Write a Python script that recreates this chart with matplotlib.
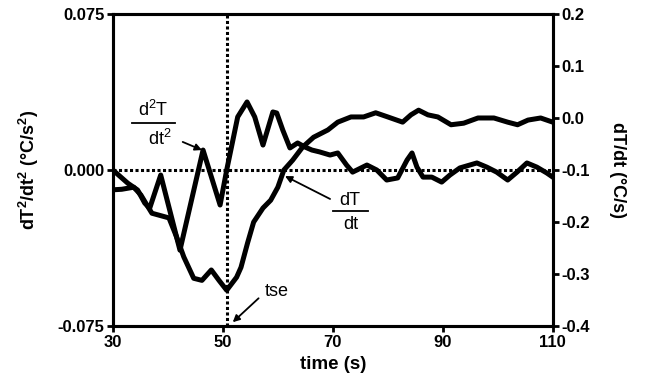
import matplotlib
matplotlib.use("Agg")
import matplotlib.pyplot as plt

plt.rcParams["font.family"] = ["Liberation Sans", "DejaVu Sans"]

# d2T/dt2 (left axis, degC/s^2)
t_d2 = [30.0, 32.7, 34.5, 35.8, 36.7, 38.7, 42.2, 46.4, 49.5, 50.7, 52.7, 54.4,
        55.8, 57.3, 59.1, 59.8, 60.9, 62.2, 63.6, 64.9, 66.2, 67.6, 69.5, 70.9,
        72.5, 73.6, 76.2, 78.0, 79.8, 81.8, 83.5, 84.4, 85.3, 86.4, 88.0, 89.8,
        91.3, 93.1, 96.2, 98.0, 99.8, 101.8, 103.5, 105.3, 107.1, 108.9, 110.0]
d2T = [0.0, -0.0063, -0.0096, -0.0159, -0.0183, -0.0024, -0.0385, 0.0096,
       -0.0168, 0.0, 0.0255, 0.0327, 0.0255, 0.0120, 0.0279, 0.0274, 0.0192,
       0.0106, 0.0130, 0.0111, 0.0096, 0.0087, 0.0072, 0.0082, 0.0024, -0.0010,
       0.0024, 0.0, -0.0048, -0.0038, 0.0048, 0.0082, 0.0014, -0.0034, -0.0034,
       -0.0058, -0.0024, 0.0010, 0.0034, 0.0014, -0.0010, -0.0048, -0.0010,
       0.0034, 0.0014, -0.0014, -0.0034]

# dT/dt (right axis, degC/s)
t_d1 = [30.0, 31.6, 33.8, 35.1, 36.4, 37.1, 40.2, 41.6, 42.9, 44.7, 46.2, 47.9,
        49.3, 50.7, 52.5, 53.3, 54.5, 55.6, 57.3, 58.7, 60.0, 61.1, 62.7, 64.5,
        66.5, 69.1, 70.9, 73.3, 75.6, 77.8, 80.0, 82.7, 84.2, 85.6, 87.3, 89.1,
        91.5, 93.8, 96.4, 99.3, 101.8, 103.6, 105.5, 107.8, 110.0]
dT = [-0.138, -0.137, -0.133, -0.148, -0.171, -0.183, -0.192, -0.229, -0.267,
      -0.308, -0.312, -0.292, -0.312, -0.331, -0.306, -0.287, -0.240, -0.200,
      -0.173, -0.158, -0.133, -0.100, -0.081, -0.056, -0.037, -0.023, -0.008,
      0.002, 0.002, 0.010, 0.002, -0.008, 0.006, 0.015, 0.006, 0.002, -0.013,
      -0.010, 0.000, 0.000, -0.008, -0.013, -0.004, 0.000, -0.008]

tse = 50.7
x_ticks = [30, 50, 70, 90, 110]
left_ticks = [-0.075, 0.0, 0.075]
right_ticks = [-0.4, -0.3, -0.2, -0.1, 0.0, 0.1, 0.2]

fig = plt.figure(figsize=(6.45, 3.86), dpi=100)
ax = fig.add_axes([0.175, 0.155, 0.682, 0.809])
ax2 = ax.twinx()

dots = (0, (1.0, 0.8))
ax.axhline(0, color="black", lw=2.2, linestyle=dots, zorder=1)
ax.axvline(tse, color="black", lw=2.2, linestyle=dots, zorder=1)

ax.plot(t_d2, d2T, color="black", lw=3.6, solid_joinstyle="round", zorder=3)
ax2.plot(t_d1, dT, color="black", lw=3.6, solid_joinstyle="round", zorder=3)

ax.set_xlim(30, 110)
ax.set_ylim(-0.075, 0.075)
ax2.set_ylim(-0.4, 0.2)
ax.set_xticks(x_ticks)
ax.set_yticks(left_ticks)
ax.set_yticklabels(["-0.075", "0.000", "0.075"])
ax2.set_yticks(right_ticks)
ax2.set_yticklabels([f"{v:.1f}" for v in right_ticks])

for a in (ax, ax2):
    for s in a.spines.values():
        s.set_linewidth(2.2)
    a.tick_params(direction="out", length=4, width=2, labelsize=12, pad=2)
    for lab in a.get_xticklabels() + a.get_yticklabels():
        lab.set_fontweight("bold")

ax.set_xlabel("time (s)", fontsize=13.5, fontweight="bold", labelpad=5)
ax.set_ylabel("dT$\\mathregular{^2}$/dt$\\mathregular{^2}$ (°C/s$\\mathregular{^2}$)",
              fontsize=13, fontweight="bold", labelpad=12)
ax2.set_ylabel("dT/dt (°C/s)", fontsize=13, fontweight="bold",
               rotation=270, labelpad=26)

# annotations
fs = 13
ax.text(37.3, 0.0289, "d$\\mathregular{^2}$T", ha="center", va="center", fontsize=fs)
ax.plot([33.5, 41.3], [0.0226, 0.0226], color="black", lw=1.3)
ax.text(38.5, 0.0149, "dt$\\mathregular{^2}$", ha="center", va="center", fontsize=fs)
ax.annotate("", xy=(46.2, 0.0096), xytext=(42.7, 0.0135),
            arrowprops=dict(arrowstyle="-|>", color="black", lw=1.3,
                            mutation_scale=10, shrinkA=0, shrinkB=0))

ax.text(73.1, -0.0144, "dT", ha="center", va="center", fontsize=fs)
ax.plot([70.0, 76.4], [-0.0197, -0.0197], color="black", lw=1.3)
ax.text(73.3, -0.0262, "dt", ha="center", va="center", fontsize=fs)
ax.annotate("", xy=(61.3, -0.0029), xytext=(69.5, -0.0139),
            arrowprops=dict(arrowstyle="-|>", color="black", lw=1.3,
                            mutation_scale=10, shrinkA=0, shrinkB=0))

ax.text(59.8, -0.0582, "tse", ha="center", va="center", fontsize=fs)
ax.annotate("", xy=(51.8, -0.0731), xytext=(56.5, -0.0616),
            arrowprops=dict(arrowstyle="-|>", color="black", lw=1.3,
                            mutation_scale=10, shrinkA=0, shrinkB=0))

fig.savefig("out.png", dpi=100)
